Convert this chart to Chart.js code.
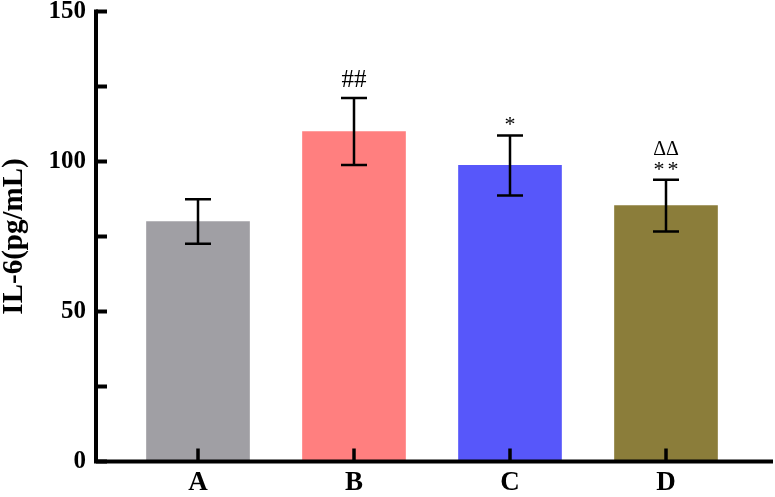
<!DOCTYPE html>
<html><head><meta charset="utf-8">
<script src="https://cdn.jsdelivr.net/npm/chart.js@4.4.1/dist/chart.umd.min.js"></script>
<style>html,body{margin:0;padding:0;background:#fff;} #wrap{width:775px;height:497px;position:relative;}</style>
</head><body><div id="wrap"><canvas id="c"></canvas></div>
<script>
const categories = ['A', 'B', 'C', 'D'];
const means = [80, 110, 98.7, 85.3];
const sds = [7.4, 11.2, 10, 8.6];
const marksLower = ['', '##', '*', '**'];
const marksUpper = ['', '', '', 'ΔΔ'];
const yMin = 0, yMax = 150, yStep = 25, yLabelStep = 50;
const barColors = ['#A09FA4', '#FF7F7F', '#5757FA', '#8B7D3A'];

const SERIF = "'Liberation Serif','Times New Roman',Times,serif";
const AREA = {left: 96, top: 11.5, right: 771, bottom: 461.5};
const PX_PER_CAT = 156, FIRST_CENTER = 198;

const decorPlugin = {
  id: 'decor',
  afterDatasetsDraw(chart) {
    const ctx = chart.ctx, xs = chart.scales.x, ys = chart.scales.y, a = chart.chartArea;
    ctx.save();
    ctx.strokeStyle = '#000'; ctx.fillStyle = '#000';
    means.forEach((m, i) => {
      const x = xs.getPixelForValue(i);
      const yt = ys.getPixelForValue(m + sds[i]);
      const yb = ys.getPixelForValue(m - sds[i]);
      ctx.lineWidth = 2.5; ctx.lineCap = 'butt';
      ctx.beginPath();
      ctx.moveTo(x, yt); ctx.lineTo(x, yb);
      ctx.moveTo(x - 13, yt); ctx.lineTo(x + 13, yt);
      ctx.moveTo(x - 13, yb); ctx.lineTo(x + 13, yb);
      ctx.stroke();
      ctx.textAlign = 'center'; ctx.textBaseline = 'alphabetic';
      const lo = marksLower[i];
      if (lo) {
        if (lo.includes('#')) {
          ctx.font = '25px ' + SERIF; ctx.letterSpacing = '0px';
          ctx.fillText(lo, x, yt - 10.5);
        } else {
          ctx.font = '22px ' + SERIF;
          ctx.letterSpacing = lo.length > 1 ? '3px' : '0px';
          ctx.fillText(lo, x + (lo.length > 1 ? 1.5 : 0), yt - 4);
          ctx.letterSpacing = '0px';
        }
      }
      const up = marksUpper[i];
      if (up) {
        ctx.font = '20px ' + SERIF;
        ctx.fillText(up, x, yt - 25);
      }
    });
    ctx.lineWidth = 4; ctx.lineCap = 'square'; ctx.lineJoin = 'miter';
    ctx.beginPath();
    ctx.moveTo(a.left, a.top); ctx.lineTo(a.left, a.bottom); ctx.lineTo(a.right, a.bottom);
    ctx.stroke();
    ctx.lineCap = 'butt';
    ys.ticks.forEach(t => {
      const y = ys.getPixelForValue(t.value);
      ctx.beginPath(); ctx.moveTo(a.left, y); ctx.lineTo(a.left + 11, y); ctx.stroke();
    });
    ctx.lineWidth = 3.5;
    categories.forEach((c, i) => {
      const x = xs.getPixelForValue(i);
      ctx.beginPath(); ctx.moveTo(x, a.bottom); ctx.lineTo(x, a.bottom - 13); ctx.stroke();
    });
    ctx.restore();
  }
};

new Chart(document.getElementById('c'), {
  type: 'bar',
  data: {
    datasets: [{
      data: means.map((m, i) => ({x: i, y: m})),
      backgroundColor: barColors,
      borderWidth: 0,
      barThickness: 103
    }]
  },
  options: {
    responsive: true,
    maintainAspectRatio: false,
    animation: false,
    layout: {padding: {left: 0, top: AREA.top, right: 775 - AREA.right, bottom: 0}},
    plugins: {legend: {display: false}, tooltip: {enabled: false}},
    scales: {
      x: {
        type: 'linear',
        offset: false,
        min: (AREA.left - FIRST_CENTER) / PX_PER_CAT,
        max: (AREA.right - FIRST_CENTER) / PX_PER_CAT,
        grid: {display: false, drawTicks: false, offset: false},
        border: {display: false},
        ticks: {
          stepSize: 1, includeBounds: false, autoSkip: false, maxRotation: 0,
          padding: 8, color: '#000',
          font: {family: SERIF, size: 27, weight: 'bold', lineHeight: 1},
          callback: v => (Number.isInteger(v) && categories[v] !== undefined) ? categories[v] : ''
        },
        afterFit(s) { s.height = 497 - AREA.bottom; s.paddingLeft = 0; s.paddingRight = 0; }
      },
      y: {
        min: yMin, max: yMax,
        grid: {display: false, drawTicks: false},
        border: {display: false},
        ticks: {
          stepSize: yStep, padding: 10, color: '#000',
          font: {family: SERIF, size: 25, weight: 'bold', lineHeight: 1},
          callback: v => (v % yLabelStep === 0) ? String(v) : ''
        },
        title: {
          display: true, text: 'IL-6(pg/mL)', color: '#000',
          font: {family: SERIF, size: 29, weight: 'bold', lineHeight: 1},
          padding: {top: 0, bottom: 0}
        },
        afterFit(s) { s.width = AREA.left; s.paddingTop = 0; s.paddingBottom = 0; }
      }
    }
  },
  plugins: [decorPlugin]
});
</script></body></html>
